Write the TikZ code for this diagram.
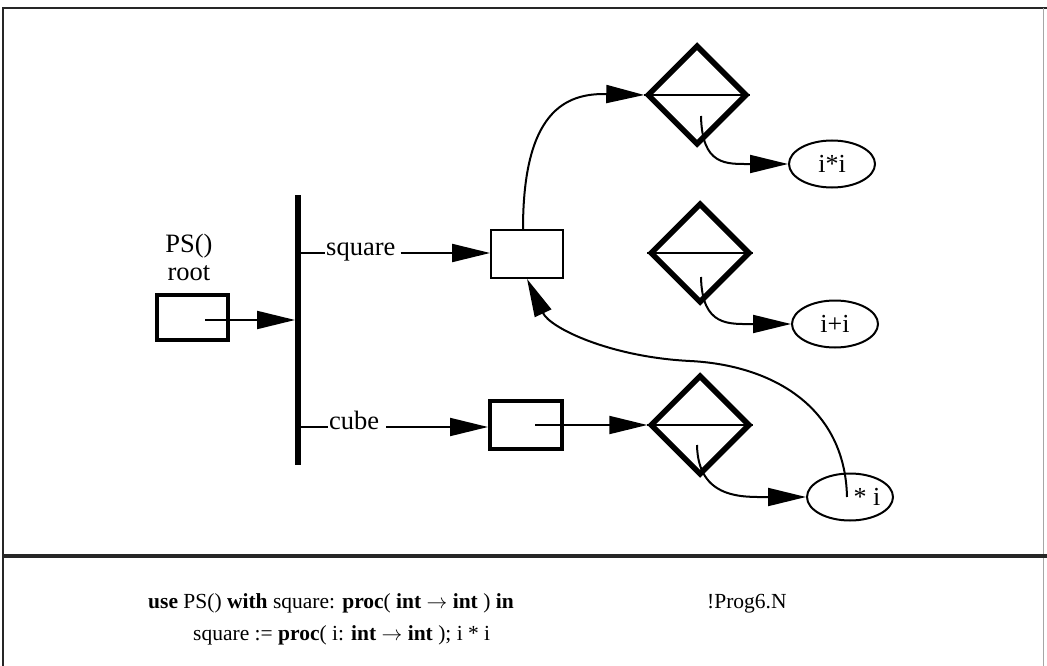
\documentclass[tikz,border=0pt]{standalone}
\usepackage{fontspec}
\setmainfont{Liberation Serif}
\usetikzlibrary{arrows.meta,shapes.geometric,calc}
\tikzset{
  lbl/.style={font=\fontsize{26.5}{30}\selectfont, inner sep=1pt},
  code/.style={font=\fontsize{21.5}{26}\selectfont, inner sep=0pt, anchor=base west},
  thinbox/.style={draw, line width=1.8pt, minimum width=72pt, minimum height=48pt, inner sep=0pt},
  thickbox/.style={draw, line width=4pt, minimum width=72pt, minimum height=48pt, inner sep=0pt},
  choice/.style={draw, shape=diamond, line width=5.5pt, minimum width=100pt, minimum height=100pt, inner sep=0pt},
  result/.style={draw, ellipse, line width=2pt, minimum width=86pt, minimum height=47pt, inner sep=0pt,
    font=\fontsize{26}{30}\selectfont},
  link/.style={line width=2pt, -{Triangle[length=38pt,width=18pt]}},
  plain/.style={line width=2pt},
}
\begin{document}
\begin{tikzpicture}[x=1pt,y=-1pt]
\useasboundingbox (0,0) rectangle (1047,666);
\fill[white] (0,0) rectangle (1047,666);

% frame and divider
\draw[line width=2.5pt, black!85] (3,666) -- (3,8) -- (1047,8);
\draw[line width=1pt, black!35] (1043,8) -- (1043,666);
\draw[line width=4pt, black!85] (3,556) -- (1047,556);

% root object
\node[lbl, anchor=base] (ps) at (189,252) {PS()};
\node[lbl, anchor=base] (rt) at (189,280) {root};
\node[thickbox, minimum width=71pt, minimum height=45pt] (root) at (192,317) {};

% structure bar with its two fields
\node[fill=black, minimum width=5.5pt, minimum height=270pt, inner sep=0pt] (bar) at (298,330) {};
\node[lbl, anchor=mid west] (fsq) at (325,253) {square};
\node[lbl, anchor=mid west] (fcb) at (328,427) {cube};

% procedure closures
\node[thinbox] (sq) at (527,254) {};
\node[thickbox] (cb) at (526,425) {};

% code and environment diamonds
\node[choice] (td) at (697,95) {};
\node[choice] (md) at (700,253) {};
\node[choice] (bd) at (700,425) {};
\draw[plain] (td.west) -- (td.east);
\draw[plain] (md.west) -- (md.east);
\draw[plain] (bd.west) -- (bd.east);

% bodies
\node[result] (e1) at (832,164) {i*i};
\node[result] (e2) at (835,324) {i+i};
\node[result] (e3) at (850,497) {\hspace*{34pt}* i};

% connectors
\coordinate (r0) at ($(root.center)+(13,3)$);
\draw[link] (r0) -- (r0 -| bar.west);
\draw[plain] (bar.east |- fsq.mid west) -- (fsq.mid west);
\draw[link] ($(fsq.mid east)+(4,0)$) -- (sq.west |- fsq.mid east);
\draw[plain] (bar.east |- fcb.mid west) -- (fcb.mid west);
\draw[link] ($(fcb.mid east)+(6,0)$) -- (cb.west |- fcb.mid east);

\coordinate (c0) at ($(cb.center)+(9,0)$);
\draw[link] (c0) -- (bd.west);

\draw[link] ($(sq.north)+(-4,0)$) .. controls (523,112) and (565,93) .. (td.west);

\coordinate (t0) at ($(td.center)+(4,21)$);
\coordinate (m0) at ($(md.center)+(1,24)$);
\coordinate (b0) at ($(bd.center)+(-3,20)$);
\draw[link] (t0) .. controls +(1,50) and +(-62,0) .. (e1.west);
\draw[link] (m0) .. controls +(1,50) and +(-62,0) .. (e2.west);
\draw[link] (b0) .. controls +(1,55) and +(-62,0) .. (e3.west);

\coordinate (x0) at ($(e3.center)+(-3,0)$);
\draw[link] (x0) .. controls (845,405) and (770,365) .. (690,361)
               .. controls (610,357) and (550,328) .. (sq.south);

% program text
\node[code] (l1) at (148,608) {\textbf{use} PS() \textbf{with} square: \textbf{proc}( \textbf{int} $\rightarrow$ \textbf{int} ) \textbf{in}};
\node[code] (l2) at (193,640) {square := \textbf{proc}( i: \textbf{int} $\rightarrow$ \textbf{int} ); i * i};
\node[code] (pg) at (707,608) {!Prog6.N};
\end{tikzpicture}
\end{document}
